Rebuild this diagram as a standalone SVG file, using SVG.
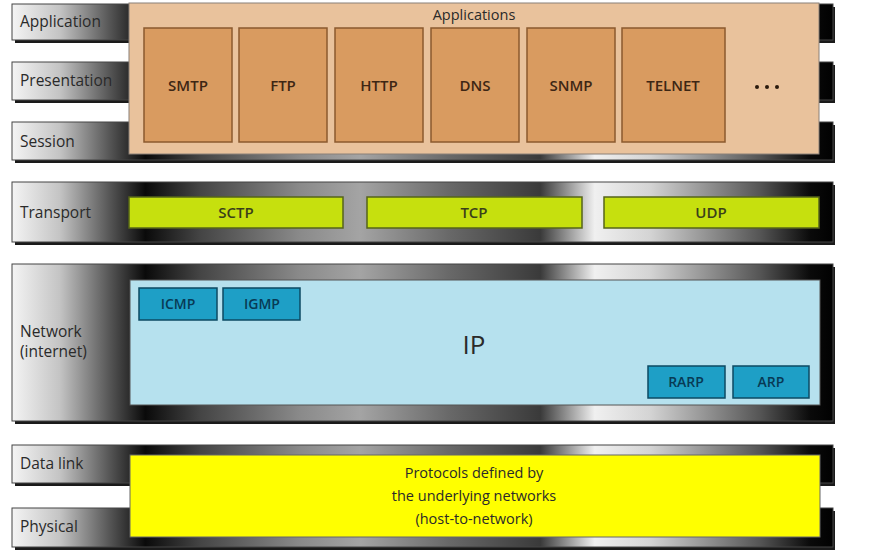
<svg xmlns="http://www.w3.org/2000/svg" width="873" height="551" viewBox="0 0 873 551">
<defs>
<linearGradient id="metal" gradientUnits="userSpaceOnUse" x1="12" y1="0" x2="835" y2="0">
<stop offset="0" stop-color="#f4f4f4"/>
<stop offset="0.058" stop-color="#c4c4c4"/>
<stop offset="0.119" stop-color="#555"/>
<stop offset="0.162" stop-color="#0a0a0a"/>
<stop offset="0.228" stop-color="#444"/>
<stop offset="0.35" stop-color="#8a8a8a"/>
<stop offset="0.423" stop-color="#a4a4a4"/>
<stop offset="0.532" stop-color="#686868"/>
<stop offset="0.642" stop-color="#3a3a3a"/>
<stop offset="0.708" stop-color="#f0f0f0"/>
<stop offset="0.775" stop-color="#d4d4d4"/>
<stop offset="0.909" stop-color="#555"/>
<stop offset="0.97" stop-color="#0a0a0a"/>
<stop offset="1" stop-color="#000"/>
</linearGradient>
<style>
.shadow{fill:#1a1a1a}
.bar{fill:url(#metal);stroke:#444;stroke-width:1}
.lbl{font-family:"Open Sans","Liberation Sans",sans-serif;font-size:15.5px;fill:#2a2a2a}
.app{fill:#D99B60;stroke:#8B5A2E;stroke-width:1.5}
.appt{font-family:"Open Sans","Liberation Sans",sans-serif;font-size:15px;font-weight:600;fill:#3d2614;text-anchor:middle}
.tr{fill:#C6E00E;stroke:#56641a;stroke-width:1.5}
.trt{font-family:"Open Sans","Liberation Sans",sans-serif;font-size:15px;font-weight:600;fill:#3a3f1a;text-anchor:middle}
.nw{fill:#1E9FC6;stroke:#0d4a63;stroke-width:1.5}
.nwt{font-family:"Open Sans","Liberation Sans",sans-serif;font-size:14px;font-weight:600;fill:#083a55;text-anchor:middle}
.ct{font-family:"Open Sans","Liberation Sans",sans-serif;fill:#2a2a2a;text-anchor:middle}
</style>
</defs>
<rect width="873" height="551" fill="#fff"/>

<g id="upper-layers">
<rect class="shadow" x="15" y="7" width="820" height="36"/>
<rect class="bar" x="12" y="4" width="821" height="36"/>
<rect class="shadow" x="15" y="65" width="820" height="38"/>
<rect class="bar" x="12" y="62" width="821" height="38"/>
<rect class="shadow" x="15" y="125" width="820" height="38"/>
<rect class="bar" x="12" y="122" width="821" height="38"/>
<text class="lbl" x="20" y="27">Application</text>
<text class="lbl" x="20" y="86">Presentation</text>
<text class="lbl" x="20" y="147">Session</text>
</g>

<g id="applications">
<rect x="129" y="3" width="690" height="151" fill="#E9C29C" stroke="#8a8078" stroke-width="1"/>
<text class="ct" x="474" y="20" font-size="14.5">Applications</text>
<g id="smtp"><rect class="app" x="144" y="28" width="88" height="114"/><text class="appt" x="188" y="91">SMTP</text></g>
<g id="ftp"><rect class="app" x="239" y="28" width="88" height="114"/><text class="appt" x="283" y="91">FTP</text></g>
<g id="http"><rect class="app" x="335" y="28" width="88" height="114"/><text class="appt" x="379" y="91">HTTP</text></g>
<g id="dns"><rect class="app" x="431" y="28" width="88" height="114"/><text class="appt" x="475" y="91">DNS</text></g>
<g id="snmp"><rect class="app" x="527" y="28" width="88" height="114"/><text class="appt" x="571" y="91">SNMP</text></g>
<g id="telnet"><rect class="app" x="622" y="28" width="103" height="114"/><text class="appt" x="673" y="91">TELNET</text></g>
<g id="more" fill="#2a1a0e"><circle cx="757" cy="87" r="2"/><circle cx="767" cy="87" r="2"/><circle cx="777" cy="87" r="2"/></g>
</g>

<g id="transport">
<rect class="shadow" x="15" y="185" width="820" height="60"/>
<rect class="bar" x="12" y="182" width="821" height="60"/>
<text class="lbl" x="20" y="218">Transport</text>
<g id="sctp"><rect class="tr" x="129" y="197" width="214" height="31"/><text class="trt" x="236" y="218">SCTP</text></g>
<g id="tcp"><rect class="tr" x="367" y="197" width="215" height="31"/><text class="trt" x="474" y="218">TCP</text></g>
<g id="udp"><rect class="tr" x="604" y="197" width="215" height="31"/><text class="trt" x="711" y="218">UDP</text></g>
</g>

<g id="network">
<rect class="shadow" x="15" y="267" width="820" height="157"/>
<rect class="bar" x="12" y="264" width="821" height="157"/>
<text class="lbl" x="20" y="337" font-size="15">Network</text>
<text class="lbl" x="20" y="357" font-size="15">(internet)</text>
<g id="ip"><rect x="130" y="280" width="690" height="125" fill="#B6E1EE" stroke="#555" stroke-width="1"/>
<text class="ct" x="474" y="354" font-size="26">IP</text></g>
<g id="icmp"><rect class="nw" x="139" y="288" width="78" height="32"/><text class="nwt" x="178" y="309">ICMP</text></g>
<g id="igmp"><rect class="nw" x="223" y="288" width="77" height="32"/><text class="nwt" x="262" y="309">IGMP</text></g>
<g id="rarp"><rect class="nw" x="648" y="366" width="77" height="32"/><text class="nwt" x="686" y="387">RARP</text></g>
<g id="arp"><rect class="nw" x="733" y="366" width="76" height="32"/><text class="nwt" x="771" y="387">ARP</text></g>
</g>

<g id="host-to-network">
<rect class="shadow" x="15" y="448" width="820" height="38"/>
<rect class="bar" x="12" y="445" width="821" height="38"/>
<rect class="shadow" x="15" y="511" width="820" height="39"/>
<rect class="bar" x="12" y="508" width="821" height="39"/>
<text class="lbl" x="20" y="469">Data link</text>
<text class="lbl" x="20" y="532">Physical</text>
<g id="protocols"><rect x="130" y="455" width="690" height="82" fill="#FFFF00" stroke="#666" stroke-width="1"/>
<text class="ct" x="474" y="478" font-size="14.5">Protocols defined by</text>
<text class="ct" x="474" y="501" font-size="14.5">the underlying networks</text>
<text class="ct" x="474" y="524" font-size="14.5">(host-to-network)</text></g>
</g>
</svg>
